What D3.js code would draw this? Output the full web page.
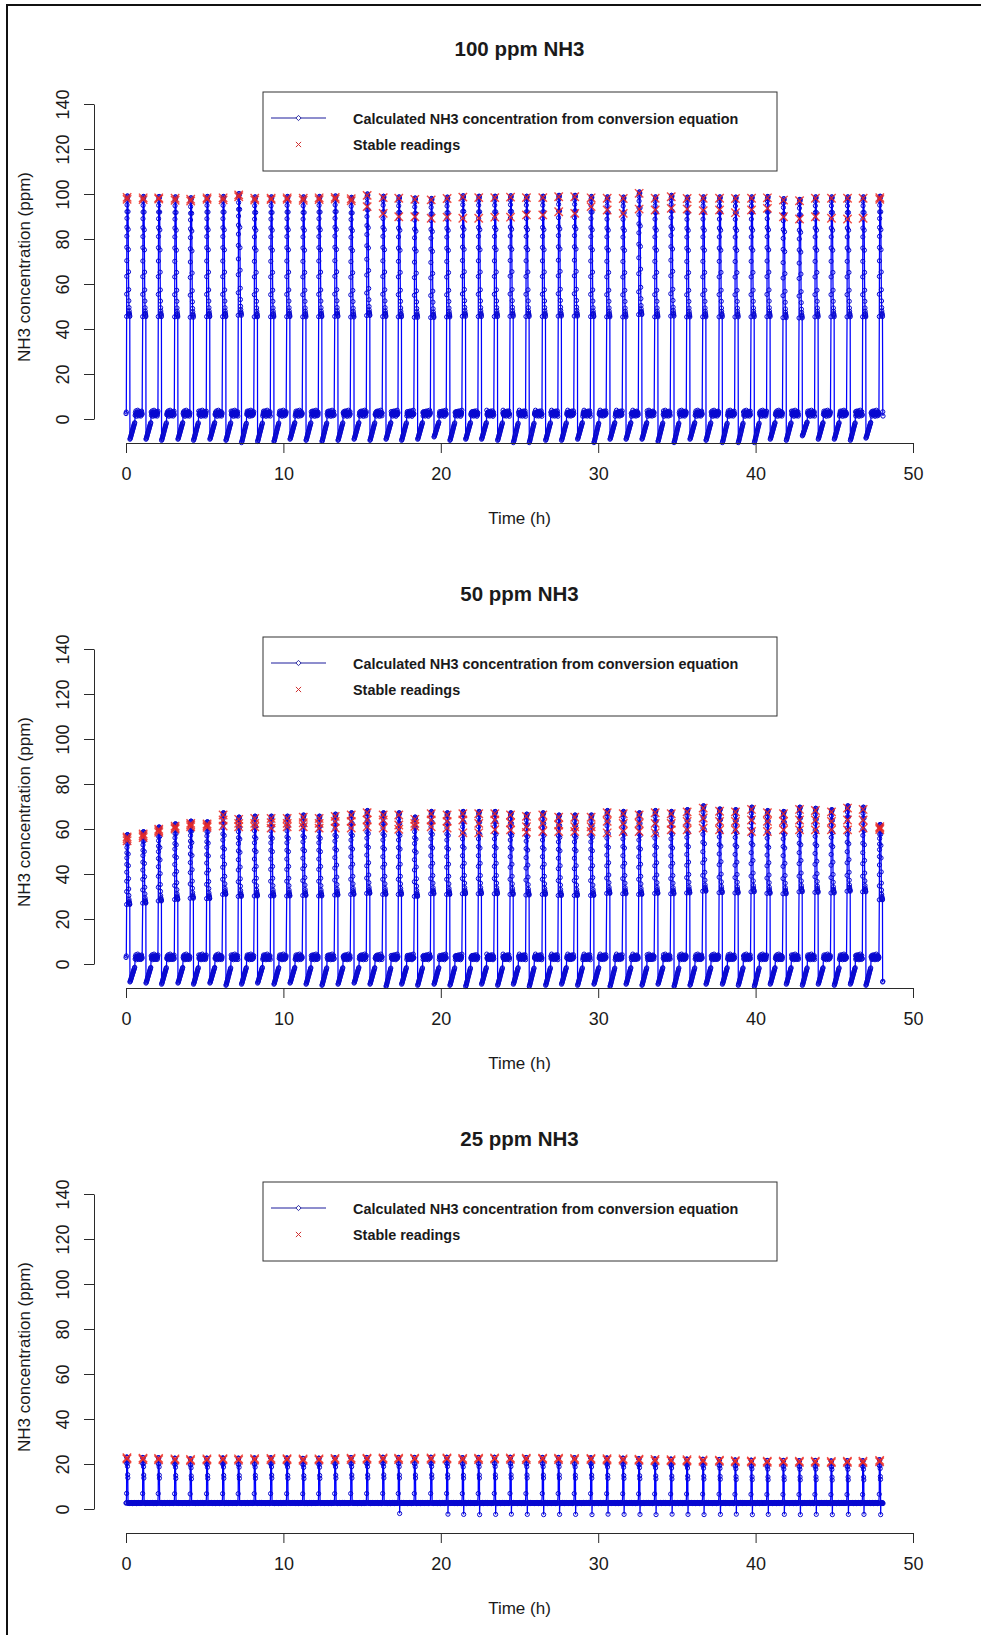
<!DOCTYPE html>
<html><head><meta charset="utf-8">
<script src="https://cdn.jsdelivr.net/npm/d3@7"></script>
<style>
body{margin:0;background:#fff}
svg{display:block}
text{font-family:"Liberation Sans",Arial,Helvetica,sans-serif;fill:#1a1a1a}
</style>
</head><body>
<svg id="chart" width="981" height="1635"></svg>
<script>
// ---------- labels ----------
const titles = ["100 ppm NH3", "50 ppm NH3", "25 ppm NH3"];
const legendLabels = ["Calculated NH3 concentration from conversion equation", "Stable readings"];
const xLabel = "Time (h)";
const yLabel = "NH3 concentration (ppm)";
const xTicks = [0, 10, 20, 30, 40, 50];
const yTicks = [0, 20, 40, 60, 80, 100, 120, 140];

// ---------- time of each exposure spike (h) ----------
const cycleTimes = [0.04, 1.06, 2.05, 3.09, 4.08, 5.12, 6.14, 7.13, 8.15, 9.19, 10.21, 11.23,
  12.24, 13.26, 14.28, 15.29, 16.31, 17.30, 18.32, 19.36, 20.37, 21.37, 22.38, 23.40,
  24.40, 25.41, 26.45, 27.46, 28.48, 29.52, 30.54, 31.56, 32.57, 33.59, 34.61, 35.62,
  36.64, 37.68, 38.69, 39.71, 40.72, 41.74, 42.76, 43.77, 44.79, 45.81, 46.80, 47.86];

// ---------- 100 ppm panel ----------
const p1Stable = [98.5, 98.3, 98.3, 98.1, 97.7, 98.3, 98.3, 99.6, 98.1, 98.1, 98.3, 98.1,
  98.3, 98.5, 97.9, 99.4, 98.4, 98.1, 97.6, 97.4, 98.0, 98.6, 98.4, 98.4,
  98.6, 98.4, 98.4, 98.8, 98.8, 98.3, 98.1, 98.0, 100.3, 98.1, 98.8, 98.0,
  98.1, 98.1, 98.0, 98.1, 98.3, 97.3, 97.0, 98.1, 98.1, 98.1, 98.1, 98.4];
const p1Stable2 = [97.6, 97.5, 97.8, 97.2, 96.9, 97.6, 97.4, 98.8, 97.3, 97.5, 97.6, 97.2,
  97.5, 97.8, 97.0, 94.4, 91.4, 89.9, 89.9, 89.2, 89.7, 89.2, 89.2, 89.7,
  89.7, 90.7, 90.7, 92.1, 91.4, 94.4, 92.9, 91.4, 93.3, 92.9, 93.6, 93.3,
  92.6, 92.9, 91.7, 92.9, 93.6, 89.9, 88.9, 89.9, 89.2, 88.9, 89.2, 97.6];
const p1Dip = [-9, -9, -9.5, -9, -9.5, -9, -9.5, -10.5, -10, -10, -9, -9.5,
  -10, -9.5, -9, -9.5, -9, -9.5, -9, -8, -9.5, -9, -9, -9.5,
  -10.5, -10.5, -9.5, -9.5, -9, -10.5, -9, -9, -9, -10, -10.5, -9,
  -9.5, -10.5, -10.5, -10.5, -9, -9.5, -7.5, -9, -9, -9.5, -8.5, null];
const p1Base = [2.4, 3.1, 1.6, 2.8, 2.0, 3.6, 2.5, 1.2, 2.2, 3.0, 1.8, 2.7, 3.9, 1.9, 2.4,
  2.9, 1.4, 2.6, 3.3, 2.1, 1.7, 2.8, 2.3, 3.2, 1.3, 2.0, 2.7, 3.5, 1.9];

// ---------- 50 ppm panel ----------
const p2Top = [56.5, 57.8, 59.9, 61.3, 62.5, 62.2, 66.2, 64.3, 64.7, 64.7, 64.7, 65.2,
  64.7, 65.6, 66.2, 67.2, 66.2, 66.2, 64.3, 66.8, 66.2, 66.8, 66.8, 66.8,
  66.2, 65.6, 66.2, 65.2, 65.2, 65.2, 67.2, 66.8, 66.2, 67.2, 66.8, 67.6,
  69.3, 67.9, 67.6, 68.7, 67.2, 66.8, 68.7, 68.2, 67.6, 69.3, 68.7, 61.0];
const p2Mid = [55.8, 57.0, 59.2, 60.6, 61.8, 61.5, 64.0, 62.5, 62.5, 62.8, 62.5, 62.8,
  62.5, 63.4, 63.4, 64.0, 64.0, 61.8, 62.5, 64.0, 63.4, 64.0, 62.5, 64.0,
  62.8, 61.0, 62.5, 61.8, 61.0, 61.0, 63.4, 62.5, 62.5, 62.5, 62.5, 63.4,
  64.9, 63.4, 63.4, 64.0, 63.4, 63.4, 64.0, 64.0, 63.4, 64.0, 64.0, 60.4];
const p2Bot = [54.8, 56.2, 58.5, 60.0, 61.0, 60.8, 61.3, 61.0, 61.0, 60.4, 61.0, 61.0,
  60.4, 60.4, 60.4, 61.0, 60.4, 59.9, 61.2, 61.0, 60.4, 58.3, 58.3, 59.7,
  59.6, 58.5, 58.9, 58.9, 58.9, 58.9, 58.3, 58.9, 58.9, 58.3, 59.6, 59.6,
  60.4, 59.6, 59.6, 58.9, 58.9, 59.6, 59.6, 59.6, 59.6, 59.6, 60.4, 59.8];
const p2Dip = [-8, -8.5, -9, -8.5, -9, -8.5, -9.5, -9, -8.5, -9, -8.5, -9,
  -9.5, -9, -8.5, -9, -10, -9, -9.5, -9, -9.5, -10, -9, -9.5,
  -9, -10, -9.5, -9, -9.5, -9, -10, -9, -9.5, -9, -10, -9.5,
  -9, -9, -9.5, -10, -9, -9, -9.5, -9, -9.5, -9, -9.5, -8];
const p2Base = [2.9, 3.6, 2.2, 3.3, 2.6, 4.1, 3.0, 1.9, 2.7, 3.5, 2.4, 3.2, 4.4, 2.5, 2.9,
  3.4, 2.0, 3.1, 3.8, 2.6, 2.3, 3.3, 2.8, 3.7, 2.0, 2.5, 3.2, 4.0, 2.4];

// ---------- 25 ppm panel ----------
const p3Stable = [22.8, 22.6, 22.5, 22.3, 22.0, 22.3, 22.4, 22.3, 22.4, 22.5, 22.4, 22.2,
  22.3, 22.5, 22.6, 22.6, 22.7, 22.6, 22.6, 22.7, 22.7, 22.5, 22.6, 22.7,
  22.7, 22.6, 22.6, 22.6, 22.5, 22.5, 22.4, 22.3, 22.1, 22.0, 21.9, 21.9,
  21.8, 21.7, 21.5, 21.4, 21.3, 21.3, 21.2, 21.3, 21.1, 21.2, 21.2, 21.6];
const p3Stable2 = [22.2, 22.0, 21.9, 21.8, 21.5, 21.8, 21.9, 21.7, 21.8, 21.9, 21.9, 21.6,
  21.8, 21.9, 22.0, 22.1, 22.1, 22.0, 22.1, 22.1, 22.2, 21.9, 22.0, 22.2,
  22.1, 22.0, 22.1, 22.0, 21.9, 22.0, 21.8, 21.7, 21.6, 21.4, 21.4, 21.3,
  21.2, 21.2, 21.0, 20.9, 20.8, 20.8, 20.7, 20.8, 20.6, 20.7, 20.6, 21.0];
const p3Dip = [null, null, null, null, null, null, null, null, null, null, null, null,
  null, null, null, null, null, -2.0, null, null, -2.3, -2.4, -2.5, -2.4,
  -2.3, -2.4, -2.5, -2.4, -2.4, -2.5, -2.3, -2.4, -2.4, -2.5, -2.3, -2.4,
  -2.5, -2.4, -2.3, -2.5, -2.4, -2.4, -2.5, -2.4, -2.5, -2.4, -2.4, -2.5];
const p3Base = [2.6, 2.8, 2.5, 2.7, 2.9, 2.6, 2.4, 2.7, 2.8, 2.6, 2.5, 2.8, 2.7, 2.6, 2.9,
  2.5, 2.7, 2.6, 2.8, 2.4, 2.7, 2.6, 2.8, 2.7, 2.5, 2.6, 2.9, 2.7, 2.6];

// ---------- shape of one exposure cycle (offsets in h, fraction of peak / dip) ----------
const bigRiseDt = [0.000, 0.003, 0.006, 0.009, 0.012, 0.015, 0.018, 0.021, 0.024, 0.027, 0.030, 0.033];
const bigRiseFrac = [0.46, 0.56, 0.64, 0.71, 0.77, 0.82, 0.86, 0.90, 0.93, 0.96, 0.98, 0.99];
const bigHoldDt = [0.045, 0.060, 0.075];
const bigHoldFrac = [1.0, 1.0, 0.995];
const bigDecayDt = [0.09, 0.10, 0.11, 0.12, 0.13, 0.14, 0.15, 0.16, 0.17, 0.18, 0.19, 0.20];
const bigDecayFrac = [0.93, 0.85, 0.76, 0.66, 0.58, 0.53, 0.50, 0.485, 0.475, 0.47, 0.465, 0.46];
const bigRecDt = [0.21, 0.228, 0.246, 0.264, 0.282, 0.30, 0.318, 0.336, 0.354, 0.372, 0.39,
  0.408, 0.426, 0.444, 0.462, 0.48, 0.498, 0.516];
const bigRecFrac = [1.0, 0.96, 0.92, 0.87, 0.82, 0.77, 0.72, 0.67, 0.62, 0.57, 0.52, 0.47,
  0.42, 0.37, 0.32, 0.27, 0.22, 0.18];
const smallRiseDt = [-0.003, 0.0, 0.006];
const smallRiseFrac = [0.30, 0.88, 1.0];
const smallHoldDt = [0.015, 0.030];
const smallHoldFrac = [1.0, 0.99];
const smallDecayDt = [0.045, 0.055, 0.065, 0.075];
const smallDecayFrac = [0.88, 0.82, 0.66, 0.60];
const smallRecDt = [0.085];
const smallRecFrac = [1.0];

// ---------- build ----------
const bigShape = {riseDt: bigRiseDt, riseFrac: bigRiseFrac, holdDt: bigHoldDt, holdFrac: bigHoldFrac,
  decayDt: bigDecayDt, decayFrac: bigDecayFrac, recDt: bigRecDt, recFrac: bigRecFrac,
  baseStart: 0.54, noDipStart: 0.22};
const smallShape = {riseDt: smallRiseDt, riseFrac: smallRiseFrac, holdDt: smallHoldDt, holdFrac: smallHoldFrac,
  decayDt: smallDecayDt, decayFrac: smallDecayFrac, recDt: smallRecDt, recFrac: smallRecFrac,
  baseStart: 0.10, noDipStart: 0.09};
const sampleStep = 0.0165;

function buildTrace(peaks, dips, base, shape, end) {
  const pts = [[0.0, base[0]], [0.02, base[1]]];
  let bi = 2;
  cycleTimes.forEach((t0, k) => {
    const pk = peaks[k];
    const next = k < cycleTimes.length - 1 ? cycleTimes[k + 1] : end + 0.03;
    shape.riseDt.forEach((dt, i) => pts.push([t0 + dt, pk * shape.riseFrac[i]]));
    shape.holdDt.forEach((dt, i) => pts.push([t0 + dt, pk * shape.holdFrac[i]]));
    shape.decayDt.forEach((dt, i) => pts.push([t0 + dt, pk * shape.decayFrac[i]]));
    let tb;
    if (dips[k] != null) {
      shape.recDt.forEach((dt, i) => pts.push([t0 + dt, dips[k] * shape.recFrac[i]]));
      tb = t0 + shape.baseStart;
    } else {
      tb = t0 + shape.noDipStart;
    }
    for (; tb < next - 0.02; tb += sampleStep) { pts.push([tb, base[bi % base.length]]); bi++; }
  });
  return pts.filter(d => d[0] <= end);
}

const panels = [
  {title: titles[0], trace: buildTrace(p1Stable.map(v => v + 0.6), p1Dip, p1Base, bigShape, 48.1),
    stable: [p1Stable, p1Stable2], xOff: 0.03},
  {title: titles[1], trace: buildTrace(p2Top.map(v => v + 1.0), p2Dip, p2Base, bigShape, 48.1),
    stable: [p2Top, p2Mid, p2Bot], xOff: 0.03},
  {title: titles[2], trace: buildTrace(p3Stable.map(v => v + 0.3), p3Dip, p3Base, smallShape, 48.1),
    stable: [p3Stable, p3Stable2], xOff: 0.02}
];

// ---------- draw ----------
const svg = d3.select("#chart");
const panelH = 545;
const x = d3.scaleLinear().domain([0, 50]).range([126, 913]);
const y = d3.scaleLinear().domain([0, 140]).range([419, 104]);
const axisColor = "#2a2a2a";
const lineColor = "#0000ff";
const pointColor = "#0808d0";
const crossColor = "#ee2a20";

// frame
svg.append("line").attr("x1", 7).attr("x2", 981).attr("y1", 5).attr("y2", 5)
  .attr("stroke", "#111").attr("stroke-width", 2);
svg.append("line").attr("x1", 7).attr("x2", 7).attr("y1", 4).attr("y2", 1635)
  .attr("stroke", "#111").attr("stroke-width", 2);

const crossPath = s => `M${-s},${-s}L${s},${s}M${-s},${s}L${s},${-s}`;

panels.forEach((p, pi) => {
  const g = svg.append("g").attr("transform", `translate(0,${pi * panelH})`);

  // title
  g.append("text").attr("x", 519.5).attr("y", 56).attr("text-anchor", "middle")
    .style("font-size", "20.5px").style("font-weight", "bold").text(p.title);

  // line
  const line = d3.line().x(d => x(d[0])).y(d => y(d[1]));
  g.append("path").datum(p.trace).attr("d", line).attr("fill", "none")
    .attr("stroke", lineColor).attr("stroke-width", 1.25);

  // points
  g.append("g").selectAll("circle").data(p.trace).join("circle")
    .attr("cx", d => x(d[0])).attr("cy", d => y(d[1])).attr("r", 2.1)
    .attr("fill", "none").attr("stroke", pointColor).attr("stroke-width", 1);

  // stable readings
  const crosses = [];
  p.stable.forEach(arr => arr.forEach((v, k) => { if (v != null) crosses.push([cycleTimes[k] + p.xOff, v]); }));
  g.append("g").selectAll("path").data(crosses).join("path")
    .attr("transform", d => `translate(${x(d[0])},${y(d[1])})`)
    .attr("d", crossPath(4.2)).attr("fill", "none")
    .attr("stroke", crossColor).attr("stroke-opacity", 0.85).attr("stroke-width", 1.4);

  // axes
  const gx = g.append("g").attr("transform", "translate(0,443)")
    .call(d3.axisBottom(x).tickValues(xTicks).tickSize(10).tickSizeOuter(0));
  gx.selectAll("path,line").attr("stroke", axisColor);
  gx.selectAll("text").attr("y", 31).attr("dy", "0.36em").style("font-size", "18px")
    .style("font-family", '"Liberation Sans",Arial,sans-serif').attr("fill", "#1a1a1a");

  const gy = g.append("g").attr("transform", "translate(94,0)")
    .call(d3.axisLeft(y).tickValues(yTicks).tickSize(10).tickSizeOuter(0));
  gy.selectAll("path,line").attr("stroke", axisColor);
  gy.selectAll("text").attr("x", null).attr("dy", "0.36em")
    .attr("transform", "translate(-31,0) rotate(-90)").attr("text-anchor", "middle")
    .style("font-size", "18px").style("font-family", '"Liberation Sans",Arial,sans-serif').attr("fill", "#1a1a1a");

  // axis titles
  g.append("text").attr("x", 519.5).attr("y", 518).attr("dy", "0.36em").attr("text-anchor", "middle")
    .style("font-size", "17px").text(xLabel);
  g.append("text").attr("transform", "translate(24,267) rotate(-90)").attr("dy", "0.36em")
    .attr("text-anchor", "middle").style("font-size", "17px").text(yLabel);

  // legend
  const lg = g.append("g");
  lg.append("rect").attr("x", 263).attr("y", 92).attr("width", 514).attr("height", 79)
    .attr("fill", "#fff").attr("stroke", "#333").attr("stroke-width", 1);
  lg.append("line").attr("x1", 271).attr("x2", 326).attr("y1", 118).attr("y2", 118)
    .attr("stroke", "#1c1c9c").attr("stroke-width", 1);
  lg.append("path").attr("transform", "translate(298.5,118)").attr("d", "M0,-2.6L2.6,0L0,2.6L-2.6,0Z")
    .attr("fill", "#fff").attr("stroke", "#1c1c9c").attr("stroke-width", 0.9);
  lg.append("path").attr("transform", "translate(298.5,144.5)").attr("d", crossPath(2.6))
    .attr("stroke", "#d03030").attr("stroke-width", 1);
  lg.append("text").attr("x", 353).attr("y", 119).attr("dy", "0.36em")
    .style("font-size", "14.4px").style("font-weight", "bold").text(legendLabels[0]);
  lg.append("text").attr("x", 353).attr("y", 145).attr("dy", "0.36em")
    .style("font-size", "14.4px").style("font-weight", "bold").text(legendLabels[1]);
});
</script>
</body></html>
